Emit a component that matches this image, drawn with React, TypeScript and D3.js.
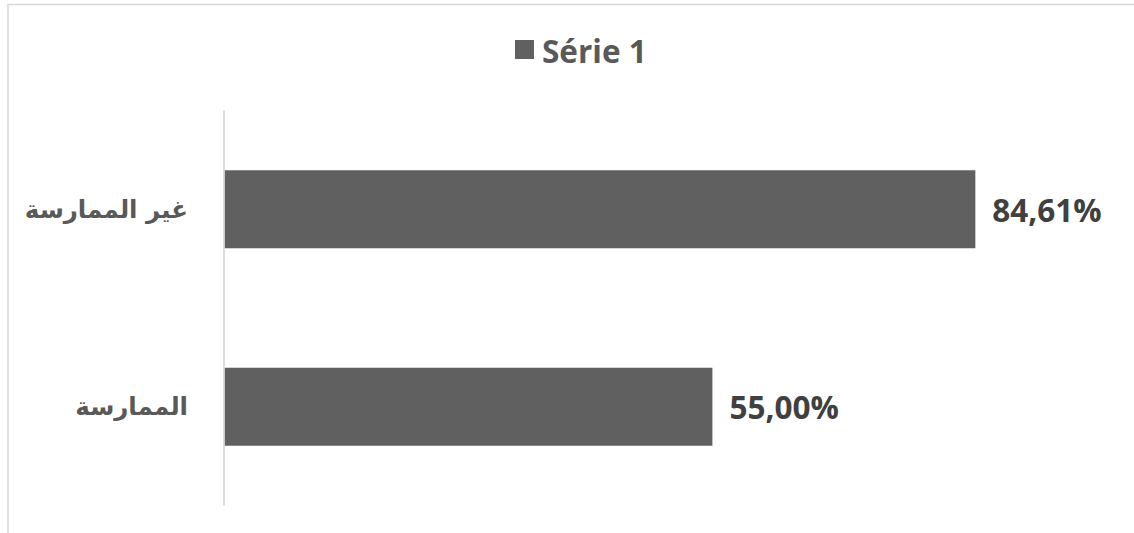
import React from "react";
import * as d3 from "d3";

const categories = ["الممارسة", "غير الممارسة"];
const values = [0.55, 0.8461];
const valueLabels = ["55,00%", "84,61%"];
const seriesName = "Série 1";

const W = 1134;
const H = 533;

export default function App() {
  const x = d3.scaleLinear().domain([0, 1]).range([224, 1112]);
  const y = d3
    .scaleBand<string>()
    .domain([...categories].reverse())
    .range([110.5, 505.5])
    .paddingInner(0.605)
    .paddingOuter(0.3025);

  const barColor = "#606060";
  return (
    <svg
      width={W}
      height={H}
      style={{ position: "absolute", left: 0, top: 0, background: "#fff" }}
    >
      <rect x={8} y={4.5} width={1300} height={700} fill="#fff" stroke="#d9d9d9" strokeWidth={1.6} />
      {/* legend */}
      <rect x={515} y={40} width={19} height={19} fill={barColor} />
      <text
        x={542}
        y={50}
        dominantBaseline="central"
        fontFamily="'Open Sans', sans-serif"
        fontWeight={700}
        fontSize={31.5}
        fill="#595959"
      >
        {seriesName}
      </text>
      {/* bars */}
      {categories.map((c, i) => (
        <g key={c}>
          <rect
            x={x(0)}
            y={y(c)!}
            width={x(values[i]) - x(0)}
            height={y.bandwidth()}
            fill={barColor}
          />
          <text
            x={x(values[i]) + 17}
            y={y(c)! + y.bandwidth() / 2}
            dominantBaseline="central"
            fontFamily="'Open Sans', sans-serif"
            fontWeight={700}
            fontSize={31.5}
            fill="#404040"
          >
            {valueLabels[i]}
          </text>
          <text
            x={188}
            y={y(c)! + y.bandwidth() / 2}
            dominantBaseline="central"
            textAnchor="end"
            fontFamily="'DejaVu Sans', sans-serif"
            fontWeight={700}
            fontSize={24.5}
            fill="#595959"
          >
            {c}
          </text>
        </g>
      ))}
      {/* axis line */}
      <line x1={224} x2={224} y1={110.5} y2={505.5} stroke="#d9d9d9" strokeWidth={1.8} />
    </svg>
  );
}
